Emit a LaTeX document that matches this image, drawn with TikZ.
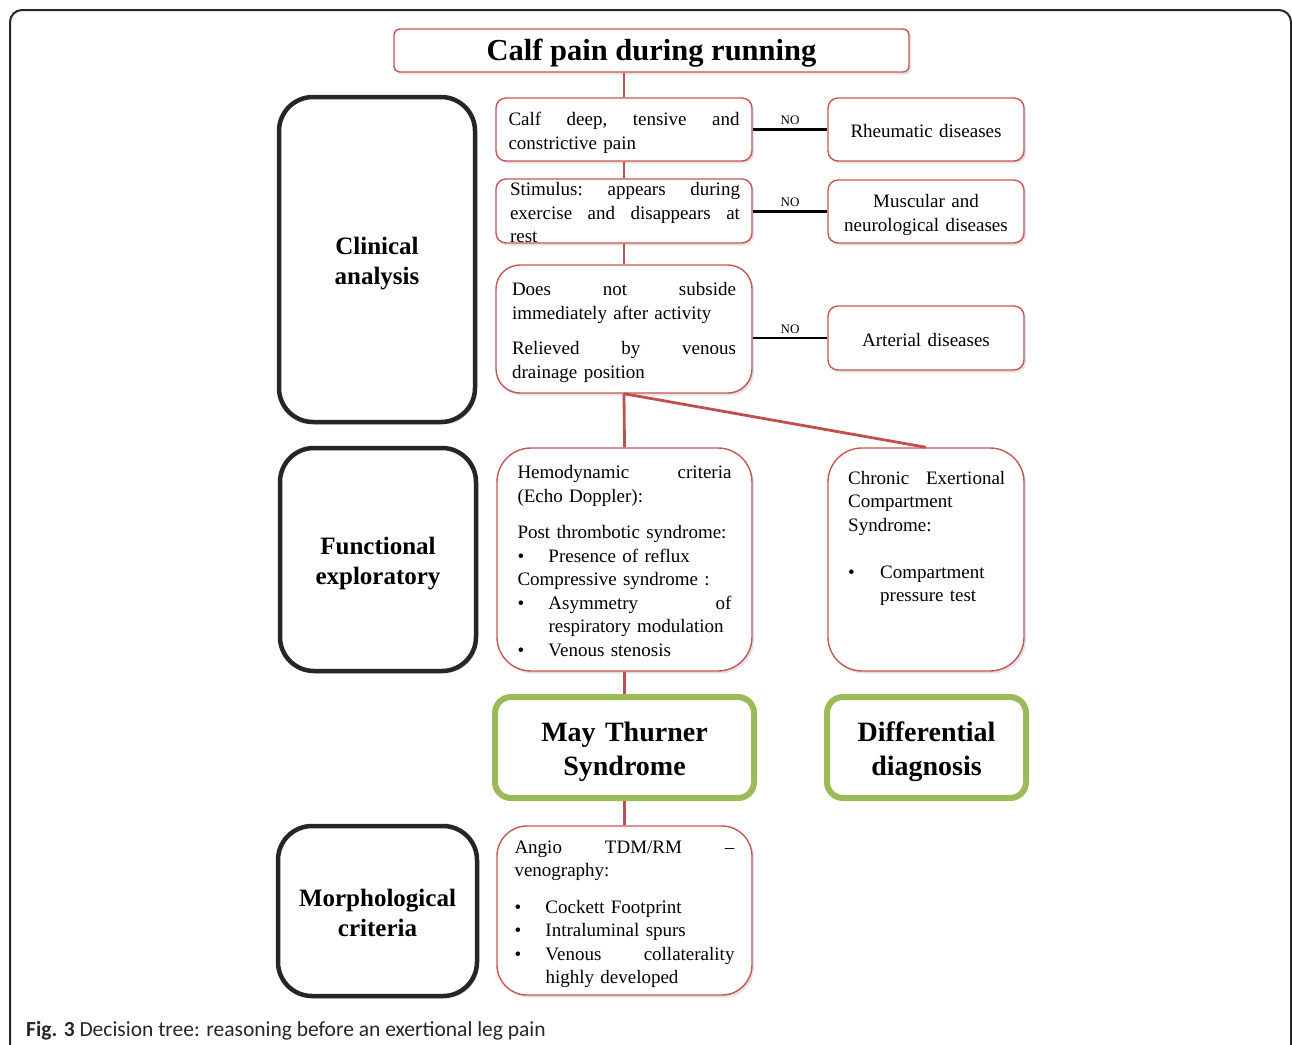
\documentclass[tikz,border=0pt]{standalone}
\usepackage{fontspec}
\setmainfont{Liberation Serif}
\newfontfamily\capfont{Carlito}
\usetikzlibrary{shadows}

\definecolor{boxred}{RGB}{200,85,85}
\definecolor{linkred}{RGB}{192,80,77}
\definecolor{boxgreen}{RGB}{155,187,89}
\definecolor{boxblack}{RGB}{38,38,38}

\newcommand{\bulitem}{\makebox[31pt][l]{\textbullet}}

\tikzset{
  softshadow/.style={drop shadow={opacity=0.22, shadow xshift=2pt, shadow yshift=-2.5pt}},
  struts/.style={execute at begin node={\rule{0pt}{#1}}, execute at end node=\strut},
  redbox/.style={draw=boxred, line width=1.4pt, rounded corners=10pt, fill=white, softshadow,
    inner sep=0pt, minimum width=256pt},
  bigred/.style={redbox, rounded corners=30pt},
  stagebox/.style={draw=boxblack, line width=4.5pt, rounded corners=34pt, fill=white, softshadow,
    minimum width=196pt, text width=188pt, align=center, font=\fontsize{25}{30}\selectfont\bfseries, struts=29pt},
  endbox/.style={draw=boxgreen, line width=6pt, rounded corners=16pt, fill=white, softshadow,
    text width=190pt, align=center, font=\fontsize{28}{34}\selectfont\bfseries, struts=31.5pt},
  bodytext/.style={align=left, inner sep=0pt, font=\fontsize{19}{23.5}\selectfont, struts=23.5pt},
  link/.style={draw=linkred, line width=2.8pt},
  nolink/.style={draw=black, line width=2.8pt},
  nolabel/.style={above, inner sep=3pt, font=\fontsize{13}{13}\selectfont}
}

\begin{document}
\begin{tikzpicture}[x=1pt, y=-1pt]
  \useasboundingbox (0,0) rectangle (1292,1044);

  % outer frame
  \draw[boxblack, line width=2pt, rounded corners=12pt] (10,1060) -- (10,10) -- (1291,10) -- (1291,1060);

  % title
  \node[redbox, rounded corners=6pt, minimum width=515pt, minimum height=43pt, struts=31pt,
    font=\fontsize{30.5}{36}\selectfont\bfseries] (title) at (651.5,50.5) {Calf pain during running};

  % stages on the left
  \node[stagebox, minimum height=325pt] (clin) at (377,259.5) {Clinical\\analysis};
  \node[stagebox, minimum height=223pt] (func) at (378,559.5) {Functional\\exploratory};
  \node[stagebox, minimum width=199pt, minimum height=170pt] (morph) at (377.5,911) {Morphological\\criteria};

  % clinical analysis
  \node[redbox, minimum height=63pt, bodytext, text width=231pt, inner xsep=12.5pt] (calf) at (624,129.5)
    {Calf\hfill deep,\hfill tensive\hfill and\\constrictive pain};
  \node[redbox, minimum height=64pt] (stim) at (624,211) {};
  \node[bodytext, text width=230pt] (stimtxt) at (625,211)
    {Stimulus:\hfill appears\hfill during\\exercise\hfill and\hfill disappears\hfill at\\rest};
  \node[bigred, rounded corners=24pt, minimum height=128pt, bodytext, text width=224pt, inner xsep=16pt] (relief) at (624,329)
    {Does\hfill not\hfill subside\\immediately after activity\\[12pt]Relieved\hfill by\hfill venous\\drainage position};

  \node[redbox, minimum width=196pt, minimum height=63pt, bodytext, text width=190pt, align=center] (rheum) at (926,129.5)
    {Rheumatic diseases};
  \node[redbox, minimum width=196pt, minimum height=63pt, bodytext, text width=190pt, align=center] (musc) at (926,211.5)
    {Muscular and\\neurological diseases};
  \node[redbox, minimum width=196pt, minimum height=64pt, bodytext, text width=190pt, align=center] (arter) at (926,338)
    {Arterial diseases};

  % functional exploratory
  \node[bigred, rounded corners=34pt, minimum width=255pt, minimum height=223pt, bodytext, text width=214pt, inner xsep=20.5pt] (hemo) at (624.5,559.5)
    {Hemodynamic\hfill criteria\\(Echo Doppler):\\[13pt]Post thrombotic syndrome:\\\bulitem Presence of reflux\\Compressive syndrome :\\\bulitem Asymmetry\hfill of\\\hspace*{31pt}respiratory modulation\\\bulitem Venous stenosis};
  \node[bigred, rounded corners=34pt, minimum width=196pt, minimum height=223pt] (chron) at (926,559.5) {};
  \node[bodytext, text width=157pt, anchor=base west] (chrontxt) at (848,484)
    {Chronic\hfill Exertional\\Compartment\\Syndrome:\\[23.5pt]\makebox[32pt][l]{\textbullet}Compartment\\\hspace*{32pt}pressure test};

  % conclusions
  \node[endbox, minimum width=259pt, minimum height=101pt] (may) at (624.5,747.5) {May Thurner\\Syndrome};
  \node[endbox, minimum width=199pt, minimum height=101pt] (diff) at (926.5,747.5) {Differential\\diagnosis};

  % morphological criteria
  \node[bigred, minimum width=255pt, minimum height=169pt, bodytext, text width=220pt, inner xsep=17.5pt] (angio) at (624.5,910.5)
    {Angio\hfill TDM/RM\hfill --\\venography:\\[13pt]\bulitem Cockett Footprint\\\bulitem Intraluminal spurs\\\bulitem Venous\hfill collaterality\\\hspace*{31pt}highly developed};

  % connectors
  \draw[link] (calf.north) -- (calf.north |- title.south);
  \draw[link] (calf.south) -- (stim.north);
  \draw[link] (stim.south) -- (relief.north);
  \draw[link] (relief.south) -- (hemo.north);
  \draw[link] (relief.south) -- (chron.north);
  \draw[link] (hemo.south) -- (may.north);
  \draw[link] (may.south) -- (angio.north);

  \draw[nolink] (calf.east) -- (rheum.west) node[nolabel, midway] (no1) {NO};
  \draw[nolink] (stim.east |- musc.west) -- (musc.west) node[nolabel, midway] (no2) {NO};
  \draw[nolink] (arter.west -| relief.east) -- (arter.west) node[nolabel, midway] (no3) {NO};

  % caption
  \node[anchor=base west, inner sep=0pt, text=black!85, font=\capfont\fontsize{21.5}{24}\selectfont] (cap) at (26,1036)
    {\textbf{Fig. 3} Decision tree: reasoning before an exertional leg pain};
\end{tikzpicture}
\end{document}
